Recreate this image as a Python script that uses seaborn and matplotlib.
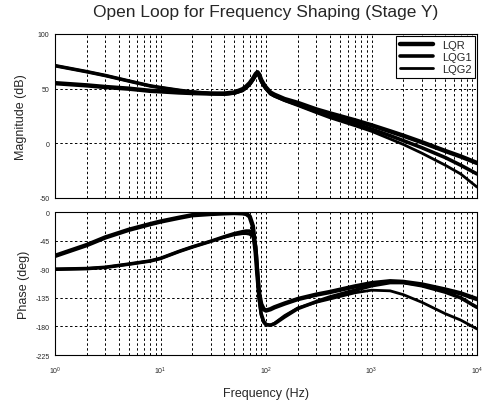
import numpy as np
import pandas as pd
import matplotlib
matplotlib.use("Agg")
import matplotlib.pyplot as plt
import seaborn as sns
from matplotlib.ticker import LogLocator, FixedLocator

# ---------------- data ----------------
freq = [1, 2, 3, 5, 8, 10, 15, 20, 30, 40, 50, 60, 65, 70, 75, 80, 83, 86, 90,
        95, 100, 110, 120, 150, 200, 300, 400, 700, 1000, 1500, 2000, 3000, 5000, 7000, 10000]

mag_lqr = [55, 53, 51.5, 50, 48, 47.5, 46.5, 46, 45.5, 45.5, 46.5, 49.5, 52, 55, 59, 63.5, 65, 63, 58,
           54, 51, 46.5, 44.5, 40.5, 37, 31, 27.5, 21, 16.5, 11, 7, 1, -7, -12, -18]
mag_lqg1 = [71, 65.5, 62, 57, 52.5, 51, 48.5, 47, 45.5, 45, 46, 48.5, 51, 54, 58, 62.5, 64, 62, 57,
            53, 50, 45.5, 43.5, 39.5, 35.5, 29, 25, 18, 13, 7, 2.5, -4, -13, -20, -28]
mag_lqg2 = [71, 65.5, 62, 57, 52.5, 51, 48.5, 47, 45.5, 45, 45.5, 48, 50.5, 53.5, 57.5, 62, 63.5, 61.5, 56.5,
            52.5, 49.5, 45, 43, 39, 34.5, 28, 23.5, 16, 11, 4, -1, -9, -20, -28, -40]

ph_lqr = [-69, -52, -40, -28, -19, -15, -9, -5, -3, -2, -1.5, -2, -3, -7, -22, -65, -100, -128, -145,
          -153, -155, -153, -150, -144, -137, -130, -126, -117, -112, -109, -110, -114, -122, -128, -137]
ph_lqg1 = [-90, -89, -87, -82, -77, -73, -62, -55, -46, -39, -34, -31, -30, -30, -33, -55, -95, -135, -160,
           -172, -177, -178, -176, -165, -152, -141, -134, -123, -116, -111, -111, -116, -126, -135, -150]
ph_lqg2 = [-90, -89, -87, -82, -77, -73, -62, -55, -46, -40, -36, -34, -34, -35, -39, -62, -102, -140, -163,
           -174, -178, -178, -175, -163, -151, -142, -137, -127, -123, -124, -130, -142, -160, -170, -184]

series = ["LQR", "LQG1", "LQG2"]
widths = {"LQR": 3.2, "LQG1": 2.6, "LQG2": 2.0}

mag_df = pd.DataFrame({"freq": freq * 3, "val": mag_lqr + mag_lqg1 + mag_lqg2,
                       "ctrl": sum([[s] * len(freq) for s in series], [])})
ph_df = pd.DataFrame({"freq": freq * 3, "val": ph_lqr + ph_lqg1 + ph_lqg2,
                      "ctrl": sum([[s] * len(freq) for s in series], [])})

mag_ticks = [-50, 0, 50, 100]
ph_ticks = [-225, -180, -135, -90, -45, 0]
x_ticks = [1, 10, 100, 1000, 10000]

# ---------------- style ----------------
sns.set_style("white")
plt.rcParams["font.family"] = ["Liberation Sans", "DejaVu Sans"]
plt.rcParams["mathtext.fontset"] = "custom"
plt.rcParams["mathtext.rm"] = "Liberation Sans"

fig = plt.figure(figsize=(4.83, 4.02), dpi=100)
ax1 = fig.add_axes([0.1139, 0.505, 0.8737, 0.408])
ax2 = fig.add_axes([0.1139, 0.1144, 0.8737, 0.3557])

grid_kw = dict(color="black", linestyle=(0, (2.5, 2.5)), linewidth=0.7)

for ax, df, ticks, lims in [(ax1, mag_df, mag_ticks, (-50, 100)),
                            (ax2, ph_df, ph_ticks, (-225, 0))]:
    for s in series:
        d = df[df["ctrl"] == s]
        sns.lineplot(data=d, x="freq", y="val", ax=ax, color="black",
                     linewidth=widths[s], label=s, legend=False, sort=False)
    ax.set_xscale("log")
    ax.set_xlim(1, 10000)
    ax.set_ylim(*lims)
    ax.yaxis.set_major_locator(FixedLocator(ticks))
    ax.xaxis.set_major_locator(FixedLocator(x_ticks))
    ax.xaxis.set_minor_locator(LogLocator(base=10, subs=np.arange(2, 10)))
    ax.grid(True, which="major", axis="both", **grid_kw)
    ax.grid(True, which="minor", axis="x", **grid_kw)
    ax.tick_params(axis="both", which="both", direction="in", labelsize=5,
                   length=2.5, width=0.6, color="black", pad=4)
    ax.tick_params(which="minor", length=1.5)
    for sp in ax.spines.values():
        sp.set_color("black")
        sp.set_linewidth(0.8)
        sp.set_linestyle((0, (2, 1)))
    ax.set_xlabel("")
    ax.set_ylabel("")

ax1.set_xticklabels([])
ax2.set_xticklabels([r"$10^{%d}$" % i for i in range(5)])
ax1.set_yticklabels([str(t) for t in mag_ticks])
ax2.set_yticklabels([str(t) for t in ph_ticks])
ax2.tick_params(axis="x", pad=7)

ax1.set_ylabel("Magnitude (dB)", fontsize=9, labelpad=8)
ax2.set_ylabel("Phase (deg)", fontsize=9, labelpad=4)
ax2.set_xlabel("Frequency (Hz)", fontsize=9, labelpad=8)
ax1.set_title("Open Loop for Frequency Shaping (Stage Y)", fontsize=12.5, pad=13)

leg = ax1.legend(loc="upper right", fontsize=8, frameon=True, fancybox=False,
                 edgecolor="black", framealpha=1, borderpad=0.35, handlelength=3.0,
                 labelspacing=0.2, borderaxespad=0.15)
leg.get_frame().set_linewidth(0.8)

fig.savefig("out.png", dpi=100)
